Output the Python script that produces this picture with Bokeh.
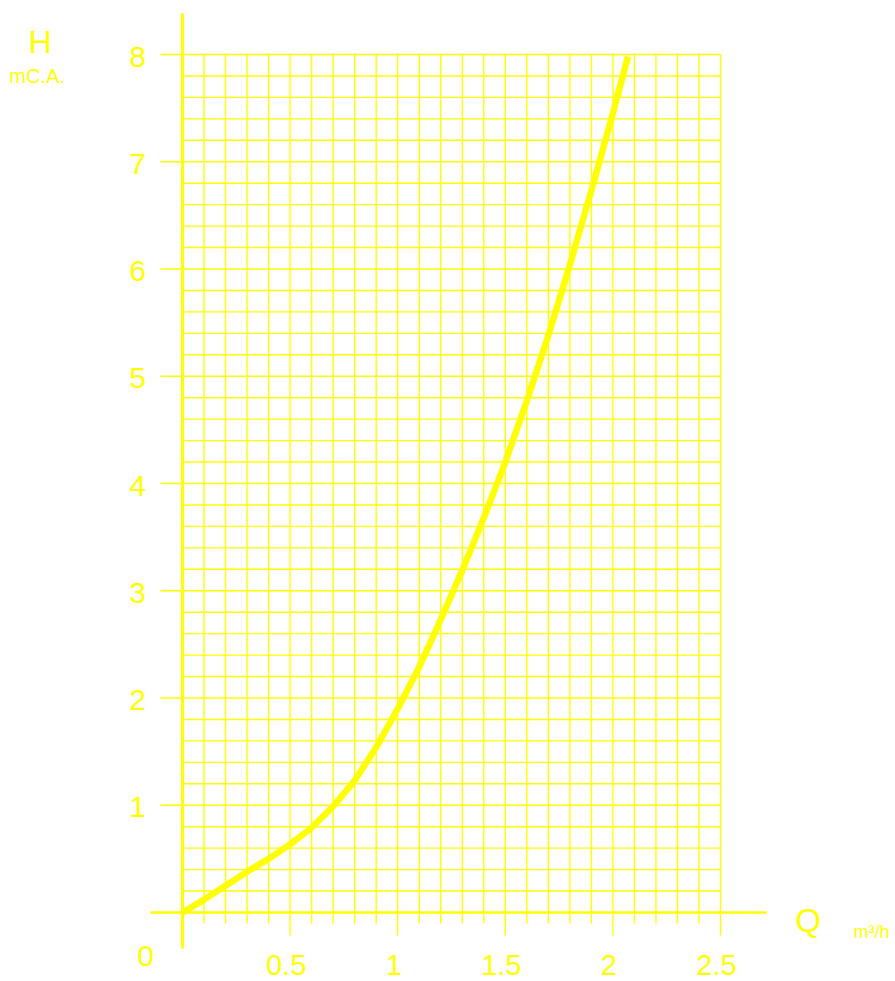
import numpy as np
from bokeh.plotting import figure
from bokeh.models import Range1d
from bokeh.core.properties import value
from bokeh.embed import file_html
from bokeh.resources import INLINE

# ---- data ----
flow_q = [0, 0.1, 0.2, 0.3, 0.4, 0.5, 0.6, 0.7, 0.8, 0.9, 1.0, 1.1, 1.2, 1.3,
          1.4, 1.5, 1.6, 1.7, 1.8, 1.9, 2.0, 2.07]
head_h = [0, 0.12, 0.25, 0.38, 0.50, 0.635, 0.79, 0.99, 1.23, 1.54, 1.90, 2.29,
          2.73, 3.19, 3.68, 4.20, 4.77, 5.38, 6.04, 6.73, 7.45, 7.98]

x_ticks = [0.5, 1, 1.5, 2, 2.5]
x_tick_labels = ["0.5", "1", "1.5", "2", "2.5"]
y_ticks = [1, 2, 3, 4, 5, 6, 7, 8]
y_tick_labels = ["1", "2", "3", "4", "5", "6", "7", "8"]
x_max, y_max = 2.5, 8
x_minor_step, y_minor_step = 0.1, 0.2

# ---- layout (pixel calibration) ----
W, H = 893, 979
ORG_X, ORG_Y = 182, 912               # origin in canvas px
SX, SY = 215.2, 107.25                # px per unit
x0 = -ORG_X / SX
x1 = x0 + W / SX
y1 = ORG_Y / SY
y0 = y1 - H / SY

def px_x(px):  # canvas px -> data x
    return (px - ORG_X) / SX

def px_y(py):
    return (ORG_Y - py) / SY

YEL = "#ffff00"
FONT = value("Liberation Sans")

p = figure(width=W, height=H, x_range=Range1d(x0, x1), y_range=Range1d(y0, y1),
           output_backend="svg", toolbar_location=None, min_border=0)
p.axis.visible = False
p.grid.visible = False
p.outline_line_color = None
p.background_fill_color = "white"
p.border_fill_color = "white"

# vertical grid lines (minor every 0.1, major at tick values extend lower)
xs_minor = np.round(np.arange(x_minor_step, x_max + 1e-9, x_minor_step), 2)
minor_v = [v for v in xs_minor if not any(abs(v - t) < 1e-6 for t in x_ticks)]
p.segment(x0=minor_v, y0=[px_y(923)] * len(minor_v), x1=minor_v, y1=[y_max] * len(minor_v),
          line_color=YEL, line_width=1.4)
p.segment(x0=x_ticks, y0=[px_y(935)] * len(x_ticks), x1=x_ticks, y1=[y_max] * len(x_ticks),
          line_color=YEL, line_width=1.4)

# horizontal grid lines (minor every 0.2, major at integers extend left)
ys_minor = np.round(np.arange(y_minor_step, y_max + 1e-9, y_minor_step), 2)
minor_h = [v for v in ys_minor if not any(abs(v - t) < 1e-6 for t in y_ticks)]
p.segment(x0=[0] * len(minor_h), y0=minor_h, x1=[x_max] * len(minor_h), y1=minor_h,
          line_color=YEL, line_width=1.4)
p.segment(x0=[px_x(160)] * len(y_ticks), y0=y_ticks, x1=[x_max] * len(y_ticks), y1=y_ticks,
          line_color=YEL, line_width=1.4)

# axes lines
p.segment(x0=[0], y0=[px_y(948)], x1=[0], y1=[px_y(13)], line_color=YEL, line_width=3)
p.segment(x0=[px_x(150)], y0=[0], x1=[px_x(766)], y1=[0], line_color=YEL, line_width=2.5)

# curve
p.line(flow_q, head_h, line_color=YEL, line_width=6.5, line_join="round")

# tick labels
p.text(x=[px_x(137)] * len(y_ticks), y=y_ticks, text=y_tick_labels, text_color=YEL,
       text_font=FONT, text_font_size="30px", text_align="center",
       text_baseline="middle", y_offset=2)
p.text(x=x_ticks, y=[px_y(964)] * len(x_ticks), text=x_tick_labels, text_color=YEL,
       text_font=FONT, text_font_size="29px", text_align="center",
       text_baseline="middle", x_offset=-4)
p.text(x=[px_x(145)], y=[px_y(955)], text=["0"], text_color=YEL, text_font=FONT,
       text_font_size="30px", text_align="center", text_baseline="middle")

# axis titles
p.text(x=[px_x(39.5)], y=[px_y(41)], text=["H"], text_color=YEL, text_font=FONT,
       text_font_size="32px", text_align="center", text_baseline="middle")
p.text(x=[px_x(36.5)], y=[px_y(75)], text=["mC.A."], text_color=YEL, text_font=FONT,
       text_font_size="20px", text_align="center", text_baseline="middle")
p.text(x=[px_x(807.5)], y=[px_y(920)], text=["Q"], text_color=YEL, text_font=FONT,
       text_font_size="33px", text_align="center", text_baseline="middle")
p.text(x=[px_x(853)], y=[px_y(931.5)], text=["m³/h"], text_color=YEL, text_font=FONT,
       text_font_size="18px", text_align="left", text_baseline="alphabetic")

open("out.html", "w").write(file_html(p, INLINE))
